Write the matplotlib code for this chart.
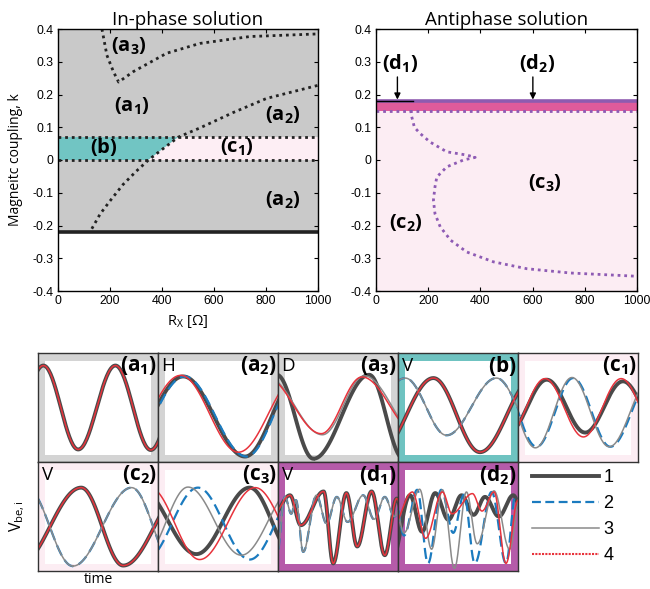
import numpy as np
import matplotlib
matplotlib.use('Agg')
import matplotlib.pyplot as plt
from matplotlib.patches import Rectangle
from matplotlib.lines import Line2D

plt.rcParams['font.family'] = ['Open Sans', 'DejaVu Sans']
plt.rcParams['mathtext.fontset'] = 'custom'
plt.rcParams['mathtext.rm'] = 'Open Sans'
plt.rcParams['mathtext.it'] = 'Open Sans:italic'
plt.rcParams['mathtext.bf'] = 'Open Sans:bold'

# ---------------- top panels: data ----------------
R_TICKS = [0, 200, 400, 600, 800, 1000]
K_TICKS = [-0.4, -0.3, -0.2, -0.1, 0, 0.1, 0.2, 0.3, 0.4]
K_TICKLABELS = ['-0.4', '-0.3', '-0.2', '-0.1', '0', '0.1', '0.2', '0.3', '0.4']

# In-phase solution
K_INPHASE_LOW = -0.22          # lower solid boundary
K_BAND = [0.0, 0.07]           # dotted horizontal boundaries
BOUND_R = [130, 162, 200, 250, 300, 348, 400, 463, 546, 674, 802, 1000]
BOUND_K = [-0.21, -0.165, -0.125, -0.075, -0.035, 0.0, 0.032, 0.07, 0.098, 0.145, 0.188, 0.228]
A3_R = [169, 188, 213, 233, 290, 418, 546, 738, 1000]
A3_K = [0.40, 0.32, 0.27, 0.238, 0.27, 0.326, 0.356, 0.377, 0.385]
INPHASE_LABELS = ['(a_3)', '(a_1)', '(a_2)', '(b)', '(c_1)', '(a_2)']
INPHASE_LAB_R = [271, 284, 866, 175, 687, 866]
INPHASE_LAB_K = [0.346, 0.163, 0.137, 0.04, 0.04, -0.123]

# Antiphase solution
K_ANTI_TOP = 0.18
K_ANTI_BAND = 0.15
R_ANTI_BLACK = 140
ANTI_R = [133, 137, 147, 169, 207, 271, 348, 380, 335, 271, 233, 226, 220, 226, 246, 286, 348, 450, 578, 744, 1000]
ANTI_K = [0.152, 0.132, 0.10, 0.081, 0.055, 0.025, 0.015, 0.008, 0.0, -0.021, -0.052, -0.082, -0.123,
          -0.164, -0.204, -0.245, -0.281, -0.311, -0.332, -0.345, -0.355]
ANTI_LABELS = ['(d_1)', '(d_2)', '(c_3)', '(c_2)']
ANTI_LAB_R = [92, 616, 648, 113]
ANTI_LAB_K = [0.295, 0.295, -0.072, -0.194]
ARROW_R = [82, 601]
ARROW_K = [0.262, 0.176]

# ---------------- bottom panels: extrema (time, value) of each trace ----------------
PANEL_NAMES = ['a_1', 'a_2', 'a_3', 'b', 'c_1', 'c_2', 'c_3', 'd_1', 'd_2']
PANEL_MODES = ['', 'H', 'D', 'V', '', 'V', '', 'V', '']
PANEL_KIND = ['a', 'a', 'a', 'b', 'c', 'c', 'c', 'd', 'd']

TRACES = {
    'a_1': {1: ([-0.26, 0.045, 0.335, 0.645, 0.94, 1.24], [-0.76, 0.77, -0.77, 0.77, -0.78, 0.77]),
            4: ([-0.26, 0.045, 0.335, 0.645, 0.94, 1.24], [-0.76, 0.77, -0.77, 0.77, -0.78, 0.77])},
    'a_2': {1: ([-0.305, 0.21, 0.725, 1.17], [-0.9, 0.57, -0.9, 0.57]),
            2: ([-0.293, 0.222, 0.737, 1.182], [-0.9, 0.57, -0.9, 0.57]),
            4: ([-0.32, 0.19, 0.67, 1.17], [-0.82, 0.59, -0.82, 0.59])},
    'a_3': {1: ([-0.01, 0.295, 0.76, 1.045], [0.6, -0.94, 0.6, -0.94]),
            3: ([-0.09, 0.37, 0.72, 1.17], [0.56, -0.5, 0.58, -0.5]),
            4: ([-0.1, 0.36, 0.70, 1.16], [0.56, -0.48, 0.56, -0.48])},
    'b':   {1: ([-0.155, 0.295, 0.683, 1.13], [-0.82, 0.54, -0.82, 0.54]),
            2: ([-0.35, 0.06, 0.405, 0.82, 1.165], [-0.51, 0.54, -0.51, 0.54, -0.51]),
            3: ([-0.35, 0.06, 0.405, 0.82, 1.165], [-0.51, 0.54, -0.51, 0.54, -0.51]),
            4: ([-0.155, 0.295, 0.683, 1.13], [-0.82, 0.54, -0.82, 0.54])},
    'c_1': {1: ([-0.08, 0.24, 0.56, 0.875, 1.19], [-0.46, 0.51, -0.46, 0.48, -0.46]),
            2: ([-0.15, 0.155, 0.46, 0.77, 1.12], [0.54, -0.72, 0.54, -0.72, 0.54]),
            3: ([-0.16, 0.145, 0.45, 0.76, 1.11], [0.55, -0.74, 0.55, -0.72, 0.55]),
            4: ([-0.09, 0.225, 0.545, 0.86, 1.18], [-0.54, 0.53, -0.54, 0.53, -0.54])},
    'c_2': {1: ([-0.16, 0.36, 0.71, 1.23], [-0.9, 0.53, -0.9, 0.53]),
            2: ([-0.093, 0.29, 0.78, 1.14], [0.53, -0.91, 0.53, -0.91]),
            3: ([-0.093, 0.29, 0.78, 1.14], [0.53, -0.91, 0.53, -0.91]),
            4: ([-0.16, 0.36, 0.71, 1.23], [-0.9, 0.53, -0.9, 0.53])},
    'c_3': {1: ([-0.153, 0.32, 0.764, 1.13], [0.53, -0.69, 0.53, -0.69]),
            2: ([-0.102, 0.333, 0.764, 1.19], [-0.79, 0.53, -0.79, 0.53]),
            3: ([-0.111, 0.25, 0.694, 1.14], [-0.71, 0.54, -0.71, 0.54]),
            4: ([-0.066, 0.347, 0.81, 1.246], [0.53, -0.79, 0.53, -0.79])},
    'd_1': {1: ([-0.05, 0.10, 0.19, 0.38, 0.46, 0.57, 0.66, 0.78, 0.89, 0.99, 1.08],
                [0.0, 0.39, -0.16, 0.46, -0.86, 0.43, -0.55, 0.46, -0.71, 0.33, -0.6]),
            2: ([-0.02, 0.058, 0.11, 0.15, 0.21, 0.32, 0.405, 0.49, 0.58, 0.71, 0.80, 0.89, 0.97, 1.05],
                [-0.9, 0.36, 0.05, 0.30, -0.65, 0.39, -0.13, 0.36, -0.10, 0.39, -0.05, 0.36, 0.0, 0.36]),
            3: ([-0.02, 0.058, 0.11, 0.15, 0.21, 0.32, 0.405, 0.49, 0.58, 0.71, 0.80, 0.89, 0.97, 1.05],
                [-0.9, 0.36, 0.05, 0.30, -0.65, 0.39, -0.13, 0.36, -0.10, 0.39, -0.05, 0.36, 0.0, 0.36]),
            4: ([-0.05, 0.10, 0.19, 0.38, 0.46, 0.57, 0.66, 0.78, 0.89, 0.99, 1.08],
                [0.0, 0.39, -0.16, 0.46, -0.86, 0.43, -0.55, 0.46, -0.71, 0.33, -0.6])},
    'd_2': {1: ([-0.05, 0.10, 0.20, 0.31, 0.42, 0.53, 0.63, 0.725, 0.84, 0.96, 1.05],
                [-0.8, 0.39, -0.28, 0.43, -0.06, 0.39, 0.03, 0.36, 0.0, 0.39, 0.0]),
            2: ([-0.03, 0.05, 0.16, 0.25, 0.36, 0.46, 0.55, 0.64, 0.78, 0.90, 0.98],
                [0.4, -0.35, 0.49, -0.86, 0.49, -0.3, 0.40, -0.86, 0.45, -0.86, 0.4]),
            3: ([-0.03, 0.05, 0.18, 0.28, 0.37, 0.47, 0.57, 0.66, 0.80, 0.93, 1.02],
                [0.3, -0.3, 0.5, -0.6, 0.49, -0.95, 0.45, -0.5, 0.47, -0.6, 0.4]),
            4: ([-0.05, 0.12, 0.23, 0.37, 0.45, 0.62, 0.70, 0.80, 0.90, 1.0],
                [-0.2, 0.45, -0.4, 0.45, 0.05, 0.42, 0.10, 0.45, -0.86, 0.3])},
}

SERIES = [1, 2, 3, 4]
SERIES_COLOR = {1: '#4a4a4a', 2: '#1b7bbf', 3: '#8a8a8a', 4: '#e8333c'}
SERIES_LW = {1: 2.8, 2: 1.6, 3: 1.1, 4: 1.1}
SERIES_LS = {1: '-', 2: (0, (5, 2.5)), 3: '-', 4: '-'}
FRAME_COLOR = {'a': '#d4d4d4', 'b': '#6fc3c1', 'c': '#fcedf3', 'd': '#b55ba9'}

TITLE_FS = 13.5
TICK_FS = 8.8


def lab(s):
    return r'$\mathbf{' + s + '}$'


def smooth_trace(te, ye, n=40):
    ts, ys = [], []
    for i in range(len(te) - 1):
        s = np.linspace(0, 1, n)
        ts.append(te[i] + (te[i + 1] - te[i]) * s)
        ys.append(ye[i] + (ye[i + 1] - ye[i]) * (1 - np.cos(np.pi * s)) / 2)
    return np.concatenate(ts), np.concatenate(ys)


fig = plt.figure(figsize=(6.5, 5.89), dpi=100)
W, H = 650.0, 589.0


def px_axes(x0, y0, x1, y1):
    return fig.add_axes([x0 / W, 1 - y1 / H, (x1 - x0) / W, (y1 - y0) / H])


def style_top(ax):
    ax.set_xlim(0, 1000)
    ax.set_ylim(-0.4, 0.4)
    ax.set_xticks(R_TICKS)
    ax.set_yticks(K_TICKS)
    ax.set_yticklabels(K_TICKLABELS)
    ax.tick_params(direction='in', top=True, right=True, length=3, width=0.8, labelsize=TICK_FS, pad=3)
    for lbl in ax.get_xticklabels() + ax.get_yticklabels():
        lbl.set_fontfamily('Liberation Sans')
    for sp in ax.spines.values():
        sp.set_linewidth(1.0)
        sp.set_zorder(10)


# ---------- In-phase ----------
ax1 = px_axes(58, 29, 318, 291)
style_top(ax1)
ax1.fill_between([0, 1000], K_INPHASE_LOW, 0.4, color='#c9c9c9', lw=0, zorder=0)
bR = np.array(BOUND_R, float)
bK = np.array(BOUND_K, float)
inband = (bK >= K_BAND[0]) & (bK <= K_BAND[1])
teal_x = np.concatenate([[0], bR[inband], [0]])
teal_y = np.concatenate([[K_BAND[0]], bK[inband], [K_BAND[1]]])
ax1.fill(teal_x, teal_y, color='#71c5c3', lw=0, zorder=1)
pink_x = np.concatenate([bR[inband], [1000, 1000]])
pink_y = np.concatenate([bK[inband], [K_BAND[1], K_BAND[0]]])
ax1.fill(pink_x, pink_y, color='#fdeef4', lw=0, zorder=1)
DOT = (0, (1, 1.4))
for kb in K_BAND:
    ax1.plot([0, 1000], [kb, kb], color='#222222', lw=2.0, ls=DOT, zorder=3)
ax1.plot(bR, bK, color='#222222', lw=2.0, ls=DOT, zorder=3)
ax1.plot(A3_R, A3_K, color='#222222', lw=2.0, ls=DOT, zorder=3)
ax1.plot([0, 1000], [K_INPHASE_LOW, K_INPHASE_LOW], color='#222222', lw=2.6, zorder=4)
for t, x, y in zip(INPHASE_LABELS, INPHASE_LAB_R, INPHASE_LAB_K):
    ax1.text(x, y, lab(t), fontsize=14.5, ha='center', va='center', zorder=5)
ax1.set_title('In-phase solution', fontsize=TITLE_FS, pad=3)
ax1.set_ylabel('Magneitc coupling, k', fontsize=10, labelpad=7)
ax1.set_xlabel(r'R$_\mathrm{X}$ [Ω]', fontsize=10.5, labelpad=4)

# ---------- Antiphase ----------
ax2 = px_axes(376, 29, 637, 291)
style_top(ax2)
ax2.fill_between([0, 1000], -0.4, K_ANTI_BAND, color='#fcedf3', lw=0, zorder=0)
ax2.fill_between([0, 1000], K_ANTI_BAND, K_ANTI_TOP, color='#df5b9b', lw=0, zorder=0)
ax2.plot([0, 1000], [K_ANTI_TOP, K_ANTI_TOP], color='#8e5bb0', lw=2.6, zorder=2)
ax2.plot([0, 1000], [K_ANTI_BAND, K_ANTI_BAND], color='#8e5bb4', lw=2.0, ls=DOT, zorder=3)
ax2.plot(ANTI_R, ANTI_K, color='#8e5bb4', lw=2.0, ls=DOT, zorder=3)
ax2.plot([0, R_ANTI_BLACK], [K_ANTI_TOP, K_ANTI_TOP], color='black', lw=1.0, zorder=4)
for xr in ARROW_R:
    ax2.annotate('', xy=(xr, ARROW_K[1]), xytext=(xr, ARROW_K[0]),
                 arrowprops=dict(arrowstyle='-|>', color='black', lw=1.0, mutation_scale=9), zorder=5)
for t, x, y in zip(ANTI_LABELS, ANTI_LAB_R, ANTI_LAB_K):
    ax2.text(x, y, lab(t), fontsize=14.5, ha='center', va='center', zorder=5)
ax2.set_title('Antiphase solution', fontsize=TITLE_FS, pad=3)

# ---------- bottom waveform panels ----------
COL_X = [38, 158, 278, 398, 518, 638]
ROW_Y = [353, 462, 571]
for i, name in enumerate(PANEL_NAMES):
    r, c = divmod(i, 5)
    ax = px_axes(COL_X[c], ROW_Y[r], COL_X[c + 1], ROW_Y[r + 1])
    ax.set_xlim(0, 1)
    ax.set_ylim(-1, 1)
    ax.set_xticks([])
    ax.set_yticks([])
    ax.set_facecolor(FRAME_COLOR[PANEL_KIND[i]])
    ax.add_patch(Rectangle((0.058, 0.06), 0.884, 0.87, transform=ax.transAxes,
                           facecolor='white', edgecolor='none', zorder=0.5))
    for sp in ax.spines.values():
        sp.set_color('#333333')
        sp.set_linewidth(1.0)
        sp.set_zorder(10)
    for s in SERIES:
        if s in TRACES[name]:
            te, ye = TRACES[name][s]
            tt, yy = smooth_trace(te, ye)
            ax.plot(tt, yy, color=SERIES_COLOR[s], lw=SERIES_LW[s], ls=SERIES_LS[s],
                    zorder=2 + s, solid_capstyle='butt')
    ax.text(0.99, 0.995, lab('(' + name + ')'), transform=ax.transAxes, fontsize=15,
            ha='right', va='top', zorder=20)
    if PANEL_MODES[i]:
        ax.text(0.03, 0.965, PANEL_MODES[i], transform=ax.transAxes, fontsize=13.5,
                ha='left', va='top', zorder=20)
    if i == 5:
        ax.set_xlabel('time', fontsize=10, labelpad=1)
        ax.set_ylabel(r'V$_\mathrm{be,i}$', fontsize=11.5, labelpad=8)

# legend cell
axl = px_axes(518, 462, 638, 571)
axl.axis('off')
handles = [Line2D([], [], color=SERIES_COLOR[1], lw=SERIES_LW[1]),
           Line2D([], [], color=SERIES_COLOR[2], lw=SERIES_LW[2], ls=(0, (4, 2))),
           Line2D([], [], color=SERIES_COLOR[3], lw=SERIES_LW[3]),
           Line2D([], [], color=SERIES_COLOR[4], lw=1.5, ls=(0, (1, 0.6)))]
leg = axl.legend(handles, [str(s) for s in SERIES], loc='center left', bbox_to_anchor=(-0.02, 0.5),
                 frameon=False, handlelength=3.7, handletextpad=0.25, labelspacing=0.5,
                 prop={'family': 'Liberation Sans', 'size': 13})

fig.savefig('out.png', dpi=100)
